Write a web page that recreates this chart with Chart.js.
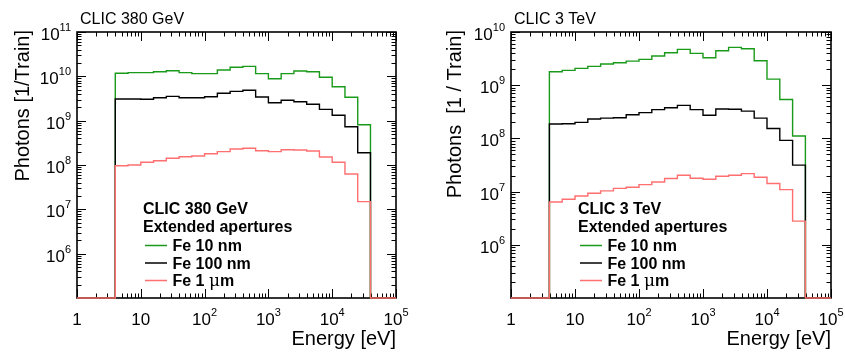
<!DOCTYPE html>
<html>
<head>
<meta charset="utf-8">
<script src="https://cdn.jsdelivr.net/npm/chart.js@4.4.1/dist/chart.umd.min.js"></script>
<style>
  body { margin: 0; background: #fff; }
  #wrap { position: relative; width: 845px; height: 352px; }
  canvas { position: absolute; top: 0; }
</style>
</head>
<body>
<div id="wrap">
  <canvas id="left" width="422" height="352" style="left:0"></canvas>
  <canvas id="right" width="423" height="352" style="left:422px"></canvas>
</div>
<script>
// bin edges in eV (0.2 decade bins from 1 eV to 100 keV)
const binEdges = [1, 1.585, 2.512, 3.981, 6.310, 10, 15.85, 25.12, 39.81, 63.10, 100,
  158.5, 251.2, 398.1, 631.0, 1000, 1585, 2512, 3981, 6310, 10000,
  15849, 25119, 39811, 63096, 100000];

// photons per train, one value per bin (0 = empty bin)
const green380 = [0, 0, 0, 1.17e10, 1.21e10, 1.21e10, 1.27e10, 1.34e10, 1.21e10, 1.15e10, 1.15e10, 1.39e10, 1.60e10,
  1.68e10, 1.15e10, 8.85e9, 1.15e10, 1.32e10, 1.27e10, 9.5e9, 5.83e9, 3.37e9, 8.1e8, 0, 0];
const black380 = [0, 0, 0, 3.08e9, 3.08e9, 3.05e9, 3.3e9, 3.54e9, 3.3e9, 3.3e9, 3.47e9, 4.14e9, 4.59e9,
  4.84e9, 3.42e9, 2.54e9, 2.88e9, 2.68e9, 2.34e9, 1.80e9, 1.32e9, 7.3e8, 1.89e8, 0, 0];
const red380 = [0, 0, 0, 9.6e7, 1.0e8, 1.15e8, 1.25e8, 1.42e8, 1.54e8, 1.6e8, 1.8e8, 2.0e8, 2.3e8,
  2.38e8, 2.1e8, 2.0e8, 2.2e8, 2.18e8, 2.07e8, 1.51e8, 1.15e8, 6.27e7, 1.49e7, 0, 0];

const green3TeV = [0, 0, 0, 1.79e9, 1.90e9, 2.07e9, 2.26e9, 2.50e9, 2.64e9, 2.84e9, 3.06e9, 3.53e9, 4.08e9,
  4.72e9, 3.97e9, 3.28e9, 4.45e9, 5.15e9, 4.85e9, 2.88e9, 1.30e9, 5.4e8, 1.11e8, 0, 0];
const black3TeV = [0, 0, 0, 1.86e8, 1.89e8, 2.00e8, 2.31e8, 2.40e8, 2.45e8, 2.79e8, 3.05e8, 3.47e8, 3.78e8,
  4.17e8, 3.47e8, 2.73e8, 3.57e8, 3.52e8, 3.25e8, 2.40e8, 1.53e8, 9.2e7, 3.15e7, 0, 0];
const red3TeV = [0, 0, 0, 6.37e6, 7.16e6, 8.26e6, 9.29e6, 1.03e7, 1.15e7, 1.21e7, 1.35e7, 1.52e7, 1.76e7,
  2.03e7, 1.78e7, 1.71e7, 1.94e7, 2.03e7, 2.18e7, 1.86e7, 1.42e7, 1.09e7, 2.79e6, 0, 0];

// legend labels: [bold part, symbol part, bold part]
const seriesLabels = [['Fe 10 nm', '', ''], ['Fe 100 nm', '', ''], ['Fe 1 ', '\u03bc', 'm']];
const seriesColors = ['#1a9a1a', '#000000', '#ff6f6f'];

const xTicks = [1, 10, 100, 1000, 10000, 100000];
const yTicks380 = [1e5, 1e6, 1e7, 1e8, 1e9, 1e10, 1e11];
const yTicks3TeV = [1e5, 1e6, 1e7, 1e8, 1e9, 1e10];

const FONT = '"Liberation Sans", Arial, Helvetica, sans-serif';
Chart.defaults.font.family = FONT;

// histogram outline as plain line points
function histPoints(values, floor) {
  const pts = [];
  values.forEach((v, i) => {
    const y = v > 0 ? v : floor;
    pts.push({x: binEdges[i], y: y});
    pts.push({x: binEdges[i + 1], y: y});
  });
  return pts;
}

function powLabel(ctx, v, x, y, align) {
  const e = Math.round(Math.log10(v));
  ctx.font = '17px ' + FONT;
  if (e === 0 || e === 1) {
    const t = e === 0 ? '1' : '10';
    const w = ctx.measureText(t).width;
    const x0 = align === 'right' ? x - w : x - w / 2;
    ctx.fillText(t, x0, y);
    return;
  }
  const wb = ctx.measureText('10').width;
  ctx.font = '11px ' + FONT;
  const we = ctx.measureText(String(e)).width;
  const total = wb + we;
  const x0 = align === 'right' ? x - total : x - total / 2;
  ctx.font = '17px ' + FONT;
  ctx.fillText('10', x0, y);
  ctx.font = '11px ' + FONT;
  ctx.fillText(String(e), x0 + wb, y - 9);
}

const rootAxes = {
  id: 'rootAxes',
  beforeDatasetsDraw(chart, args, o) {
    const {ctx, chartArea: a, scales: {x, y}} = chart;
    ctx.save();
    ctx.strokeStyle = '#000';
    ctx.lineWidth = 1.6;
    ctx.strokeRect(a.left, a.top, a.width, a.height);
    ctx.lineWidth = 1;
    ctx.beginPath();
    // x ticks, bottom and top
    for (let d = 1; d <= 1e5; d *= 10) {
      for (let m = 1; m <= 9; m++) {
        const v = m * d;
        if (v > 1e5) break;
        const px = Math.round(x.getPixelForValue(v)) + 0.5;
        const len = m === 1 ? 9 : 4.5;
        ctx.moveTo(px, a.bottom); ctx.lineTo(px, a.bottom - len);
        ctx.moveTo(px, a.top); ctx.lineTo(px, a.top + len);
      }
    }
    // y ticks, left and right
    for (let d = o.yMin; d <= o.yMax; d *= 10) {
      for (let m = 1; m <= 9; m++) {
        const v = m * d;
        if (v > o.yMax * 1.0001) break;
        const py = Math.round(y.getPixelForValue(v)) + 0.5;
        const len = m === 1 ? 9 : 4.5;
        ctx.moveTo(a.left, py); ctx.lineTo(a.left + len, py);
        ctx.moveTo(a.right, py); ctx.lineTo(a.right - len, py);
      }
    }
    ctx.stroke();
    ctx.restore();
  },
  afterDraw(chart, args, o) {
    const {ctx, chartArea: a, scales: {x, y}} = chart;
    ctx.save();
    ctx.fillStyle = '#000';
    ctx.textBaseline = 'alphabetic';
    // x tick labels
    xTicks.forEach(v => powLabel(ctx, v, x.getPixelForValue(v), 325, 'center'));
    // y tick labels (lowest one hidden)
    o.yTicks.slice(1).forEach(v => powLabel(ctx, v, a.left - 6, y.getPixelForValue(v) + 8, 'right'));
    // axis titles
    ctx.font = '20px ' + FONT;
    ctx.textAlign = 'right';
    ctx.fillText('Energy [eV]', a.right, 345);
    ctx.save();
    ctx.translate(o.yTitleX, a.top - 2);
    ctx.rotate(-Math.PI / 2);
    ctx.fillText(o.yTitle, 0, 0);
    ctx.restore();
    // panel title
    ctx.textAlign = 'left';
    ctx.font = '16px ' + FONT;
    ctx.fillText(o.title, a.left + 3, 23.5);
    // legend
    const lx = a.left + o.legendDx;
    ctx.font = 'bold 16px ' + FONT;
    ctx.fillText(o.title, lx, 213.5);
    ctx.fillText('Extended apertures', lx, 231.5);
    seriesLabels.forEach((parts, i) => {
      const by = 251 + i * 17.5;
      ctx.strokeStyle = seriesColors[i];
      ctx.lineWidth = 1.5;
      ctx.beginPath();
      ctx.moveTo(lx + 2, by - 5.5);
      ctx.lineTo(lx + 24, by - 5.5);
      ctx.stroke();
      let tx = lx + 29.5;
      ctx.font = 'bold 16px ' + FONT;
      ctx.fillText(parts[0], tx, by);
      tx += ctx.measureText(parts[0]).width;
      if (parts[1]) {
        ctx.font = '17px "DejaVu Serif", serif';
        ctx.fillText(parts[1], tx, by);
        tx += ctx.measureText(parts[1]).width;
        ctx.font = 'bold 16px ' + FONT;
        ctx.fillText(parts[2], tx, by);
      }
    });
    ctx.restore();
  }
};

function makePanel(id, greens, blacks, reds, yTicks, pad, opts) {
  const yMin = yTicks[0], yMax = yTicks[yTicks.length - 1];
  const series = [reds, blacks, greens];
  const colors = [seriesColors[2], seriesColors[1], seriesColors[0]];
  return new Chart(document.getElementById(id), {
    type: 'line',
    data: {
      datasets: series.map((s, i) => ({
        data: histPoints(s, yMin),
        borderColor: colors[i],
        borderWidth: 1.4,
        pointRadius: 0,
        fill: false,
        tension: 0,
        clip: 3
      }))
    },
    options: {
      responsive: false,
      animation: false,
      layout: {padding: pad},
      plugins: {
        legend: {display: false},
        tooltip: {enabled: false},
        rootAxes: Object.assign({yMin: yMin, yMax: yMax, yTicks: yTicks}, opts)
      },
      scales: {
        x: {type: 'logarithmic', min: 1, max: 1e5, display: false},
        y: {type: 'logarithmic', min: yMin, max: yMax, display: false}
      }
    },
    plugins: [rootAxes]
  });
}

makePanel('left', green380, black380, red380, yTicks380,
  {left: 77, right: 26, top: 32, bottom: 54},
  {title: 'CLIC 380 GeV', yTitle: 'Photons [1/Train]', yTitleX: 29, legendDx: 66});

makePanel('right', green3TeV, black3TeV, red3TeV, yTicks3TeV,
  {left: 89, right: 14, top: 32, bottom: 54},
  {title: 'CLIC 3 TeV', yTitle: 'Photons  [1 / Train]', yTitleX: 39, legendDx: 67});
</script>
</body>
</html>
